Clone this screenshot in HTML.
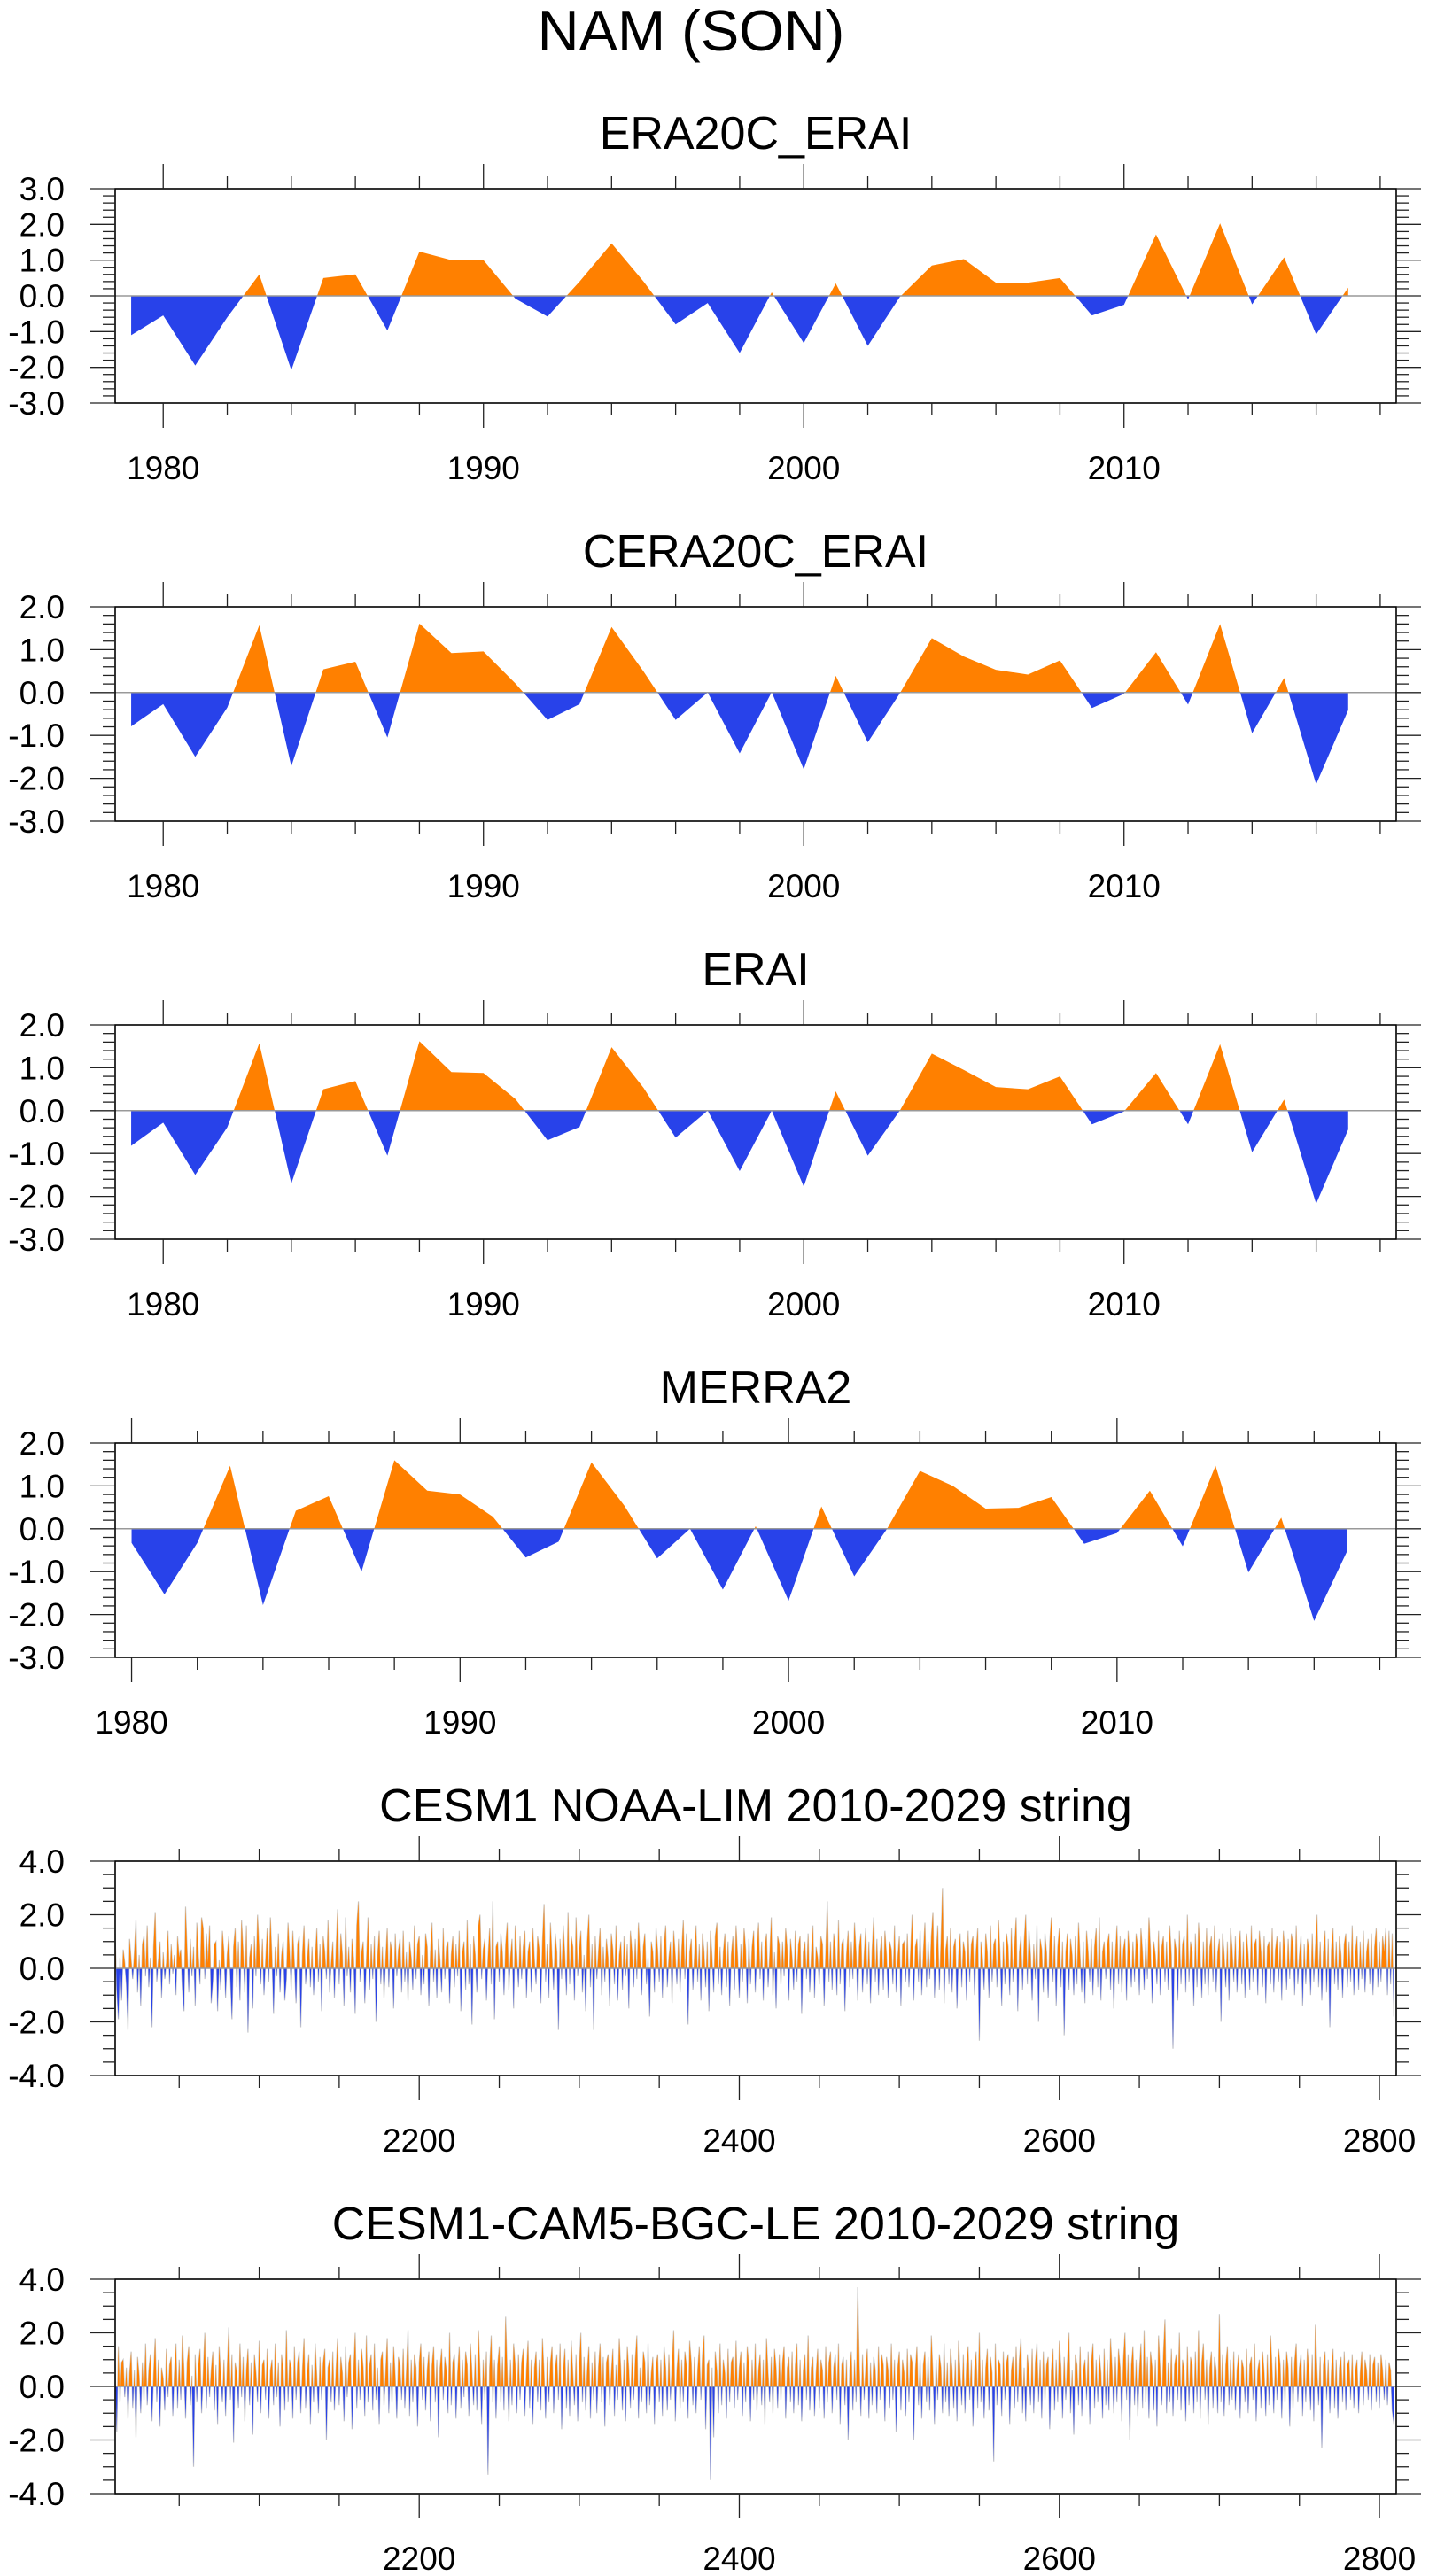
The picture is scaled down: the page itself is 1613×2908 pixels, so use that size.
<!DOCTYPE html>
<html><head><meta charset="utf-8">
<style>
html,body{margin:0;padding:0;background:#fff;}
svg{display:block;}
text{font-family:"Liberation Sans",Arial,sans-serif;fill:#000;}
</style></head>
<body>
<svg id="chart" width="1613" height="2908" viewBox="0 0 1613 2908" xmlns="http://www.w3.org/2000/svg">
<text x="780" y="57" font-size="65" text-anchor="middle">NAM (SON)</text>
</svg>
<script>
// ---- data ----
const yearsA = [1979,1980,1981,1982,1983,1984,1985,1986,1987,1988,1989,1990,1991,1992,1993,1994,1995,1996,1997,1998,1999,2000,2001,2002,2003,2004,2005,2006,2007,2008,2009,2010,2011,2012,2013,2014,2015,2016,2017];
const era20cErai = [-1.1,-0.55,-1.95,-0.6,0.6,-2.08,0.5,0.6,-0.97,1.24,1.0,1.0,-0.08,-0.58,0.4,1.47,0.4,-0.8,-0.2,-1.6,0.1,-1.32,0.35,-1.4,-0.03,0.85,1.03,0.37,0.37,0.5,-0.55,-0.25,1.72,-0.1,2.03,-0.24,1.08,-1.08,0.23];
const cera20cErai = [-0.79,-0.27,-1.5,-0.35,1.57,-1.72,0.54,0.72,-1.05,1.61,0.92,0.96,0.21,-0.64,-0.27,1.53,0.49,-0.64,0.0,-1.42,0.01,-1.79,0.39,-1.16,-0.02,1.27,0.84,0.53,0.42,0.75,-0.36,-0.03,0.94,-0.28,1.6,-0.95,0.34,-2.14,-0.41];
const erai = [-0.82,-0.28,-1.5,-0.39,1.57,-1.7,0.5,0.69,-1.05,1.62,0.9,0.88,0.27,-0.69,-0.38,1.48,0.53,-0.63,0.0,-1.41,0.0,-1.77,0.45,-1.05,0.0,1.33,0.95,0.55,0.5,0.8,-0.32,-0.02,0.88,-0.32,1.55,-0.97,0.26,-2.17,-0.44];
const yearsM = [1980,1981,1982,1983,1984,1985,1986,1987,1988,1989,1990,1991,1992,1993,1994,1995,1996,1997,1998,1999,2000,2001,2002,2003,2004,2005,2006,2007,2008,2009,2010,2011,2012,2013,2014,2015,2016,2017];
const merra2 = [-0.33,-1.53,-0.33,1.47,-1.78,0.42,0.76,-1.0,1.6,0.89,0.8,0.28,-0.67,-0.3,1.55,0.54,-0.69,0.0,-1.42,0.06,-1.68,0.52,-1.11,0.0,1.35,1.0,0.47,0.49,0.74,-0.35,-0.1,0.89,-0.41,1.47,-1.02,0.26,-2.15,-0.53];
const cesmLim = [
1.3,-0.8,-1.9,0.4,-1.2,0.7,0.2,-0.6,-2.3,1.1,0.3,-0.4,0.6,1.8,-0.9,0.5,-1.4,0.9,1.2,-0.3,
1.6,-0.7,0.4,-2.2,0.8,2.1,-0.5,0.3,1.0,-1.1,0.6,-0.4,0.2,1.4,-0.6,0.9,-0.2,0.5,-1.0,1.2,
0.4,0.7,-0.8,-1.6,2.3,0.6,-0.9,1.1,-0.3,0.8,-1.4,1.7,0.5,-0.6,1.9,1.5,-0.4,1.3,0.2,1.6,
-1.3,-0.5,0.9,1.0,-1.6,0.3,-0.8,1.4,0.6,-1.1,0.5,1.2,-0.4,-1.9,0.8,1.5,-0.7,1.0,-1.2,1.8,
0.6,-0.9,1.6,-2.4,0.4,0.9,-1.5,1.2,-0.3,2.0,0.7,-0.6,1.1,-1.0,0.3,1.5,-0.5,1.9,0.4,-1.7,
0.8,-0.3,1.3,-0.9,0.5,1.0,-1.2,-0.4,1.7,0.6,-0.8,1.4,0.2,-1.3,0.9,1.2,-2.2,0.5,1.6,-0.6,
0.3,1.1,-0.7,0.8,-1.0,0.4,1.5,-0.5,0.9,-1.6,1.2,0.6,-0.4,1.8,-0.9,0.2,1.0,-1.1,0.7,2.2,
-0.6,1.3,0.5,-1.4,1.9,-0.3,0.8,-0.9,1.1,0.4,-1.7,1.6,2.5,-0.5,0.6,1.0,-1.3,0.3,1.9,-0.8,
0.9,-0.4,1.2,-2.0,0.5,1.4,-0.6,0.8,-1.1,0.3,1.5,-0.7,1.0,0.6,-1.5,1.3,-0.3,0.7,1.1,-0.9,
1.4,-0.5,0.6,-1.2,1.0,0.4,-0.8,1.6,-0.4,0.9,1.2,-1.0,0.5,-0.6,1.3,0.8,-1.4,0.6,1.7,-0.5,
0.7,-1.1,1.1,0.3,-0.9,1.5,-0.4,0.8,1.0,-1.3,0.5,1.2,-0.7,0.9,-0.3,1.4,-1.6,0.6,1.0,-0.8,
1.8,-0.6,0.9,-2.1,1.2,0.5,-0.9,1.6,2.0,-0.4,0.7,1.1,-1.2,0.4,1.5,-0.6,2.5,-1.9,0.8,1.0,
-0.5,1.3,0.6,-1.0,0.9,1.7,-0.8,0.4,1.1,-1.5,1.6,0.5,-0.7,1.2,-0.4,0.8,1.4,-1.1,0.6,1.0,
-0.9,1.5,0.3,-0.6,1.2,0.7,-1.3,1.0,2.4,-0.5,0.9,-1.1,1.7,0.4,-0.8,1.3,0.6,-2.3,1.1,-0.4,
1.6,0.5,-1.0,2.1,-0.6,1.2,0.8,-1.2,1.9,-0.3,0.7,1.4,-0.9,0.5,-1.6,1.0,2.0,-0.7,0.9,-2.3,
1.2,-0.4,0.6,1.5,-1.0,0.8,-0.5,1.1,0.4,-1.4,1.3,0.7,-0.6,1.6,-1.2,0.5,1.0,-0.8,1.2,-0.3,
0.9,-1.5,1.4,0.6,-0.7,1.1,-0.4,1.7,0.5,-1.0,0.8,1.3,-0.6,0.4,-1.8,1.0,0.6,-0.9,1.5,0.7,
-0.5,1.2,-1.1,0.9,1.6,-0.7,0.4,1.0,-1.3,1.4,0.5,-0.6,1.1,-0.9,0.7,1.8,-0.4,1.3,-2.1,0.6,
1.1,-0.8,0.5,1.6,-0.5,0.9,-1.2,1.3,0.6,-0.7,1.0,-1.6,1.4,0.4,-0.9,1.2,1.7,-0.6,0.8,-1.0,
0.6,1.3,-0.7,1.0,-1.4,0.5,1.2,-0.8,1.6,0.4,-1.1,0.9,-0.5,1.5,0.7,-1.3,1.1,-0.6,0.8,1.4,
-0.9,0.6,1.7,-0.4,1.0,-1.2,0.8,1.3,-0.7,0.5,1.9,-1.0,0.6,-1.5,1.2,0.9,-0.6,1.0,-0.3,1.5,
0.7,-1.2,1.1,0.4,-0.8,1.4,-0.5,0.9,1.2,-1.7,0.6,1.0,-0.4,1.3,-0.9,0.5,1.6,-1.1,0.8,0.4,
-0.6,1.2,0.9,-1.4,0.6,2.5,-0.5,1.0,-0.8,1.3,0.7,-1.0,1.8,-0.6,0.9,1.1,-1.6,0.5,1.4,-0.7,
1.0,-0.4,1.7,0.6,-1.2,0.8,1.3,-0.9,0.5,1.5,-0.6,1.0,-1.3,0.7,1.9,-0.5,1.1,-1.0,0.6,1.2,
-0.8,1.4,0.5,-1.1,1.0,0.7,-0.6,1.6,-0.9,0.4,1.2,-1.4,0.9,1.0,-0.5,1.3,-0.7,0.6,2.0,-1.2,
0.8,1.1,-0.5,1.4,-1.0,0.6,1.7,-0.7,1.0,-0.4,1.2,2.1,-1.1,0.5,1.6,-0.8,1.0,3.0,-1.3,0.7,
1.2,-0.6,1.5,-0.9,0.8,1.1,-1.5,0.5,1.3,-0.7,1.0,0.6,-1.2,1.4,-0.5,0.9,1.2,-1.0,0.7,1.5,
-2.7,1.0,0.4,-0.8,1.3,0.6,-1.1,1.6,-0.5,0.9,1.1,-0.7,1.8,0.5,-1.4,1.0,-0.6,1.3,0.8,-1.0,
1.5,-0.5,0.9,1.9,-1.6,0.6,1.2,-0.8,1.0,2.0,-0.6,1.4,0.5,-1.2,0.9,-0.4,1.6,-2.0,1.1,0.7,
-0.9,1.3,0.6,-1.1,1.0,1.9,-0.5,1.2,-1.4,0.8,1.5,-0.7,1.0,-2.5,0.6,1.3,-0.8,1.1,0.5,-1.0,
1.2,-0.6,1.7,0.4,-0.9,1.0,-1.3,1.4,0.6,-0.5,1.1,-1.0,0.8,1.5,-0.7,1.9,-1.2,0.6,1.0,-0.4,
0.9,1.3,-0.8,1.0,-1.5,0.5,1.6,-0.6,1.2,-0.9,0.7,1.1,-1.2,1.4,0.5,-0.7,1.0,-0.5,1.3,0.8,
-1.0,1.5,0.6,-0.8,1.1,-0.4,1.9,0.7,-1.3,1.0,0.5,-0.6,1.4,-1.0,0.8,1.2,-0.5,1.0,-0.8,1.6,
0.5,-3.0,1.1,0.7,-1.2,1.4,-0.6,0.9,1.2,-0.9,2.0,-0.5,1.0,0.6,-1.4,1.3,-0.7,1.7,0.5,-1.1,
1.0,-0.6,1.5,-1.0,0.8,1.2,-0.5,1.6,-0.9,0.6,1.1,-2.0,1.3,0.5,-0.7,1.0,-1.2,1.5,0.7,-0.5,
1.2,-0.9,0.6,1.4,-0.6,1.0,-1.1,1.3,0.5,-0.8,1.6,-0.5,0.9,1.1,-1.0,1.4,0.6,-0.7,1.2,-1.3,
0.8,1.0,-0.6,1.5,-0.9,0.7,1.2,-0.5,1.0,-1.2,1.4,0.6,-0.8,1.1,-0.4,1.3,0.9,-1.0,1.6,-0.6,
0.5,1.2,-1.4,0.9,-0.6,1.1,0.7,-1.0,1.3,-0.5,0.8,2.0,-0.7,1.0,-1.2,0.6,1.4,-0.9,1.1,-2.2,
0.7,1.5,-0.6,1.0,-0.8,1.2,0.5,-1.1,0.9,1.3,-0.7,1.0,-0.5,1.6,-1.0,0.6,1.2,-0.8,1.0,-0.4,
1.4,-0.9,0.6,1.1,-0.6,1.3,-1.0,0.8,1.5,-0.7,1.0,-0.5,1.2,0.6,1.5,-1.0,1.4,-0.6,1.3,-1.8];
const cesmBgc = [
0.8,-1.7,1.5,-0.6,0.9,1.0,-0.4,0.7,-1.2,0.5,1.3,-0.8,0.6,-1.9,1.1,0.4,-1.0,0.9,-0.5,1.6,
-0.7,0.6,1.2,-1.3,0.4,1.8,-0.6,1.0,-1.5,0.7,0.3,-0.9,1.4,-0.4,0.8,1.1,-1.1,0.5,1.6,-0.8,
1.0,-0.5,1.9,0.6,-1.2,0.9,1.5,-0.7,0.4,-3.0,1.2,-0.6,0.8,1.4,-1.0,0.5,2.0,-0.8,1.1,-0.4,
0.6,1.3,-0.9,0.8,-1.4,1.5,0.4,-0.6,1.0,-1.1,0.7,2.2,-0.5,1.2,-2.1,0.9,0.5,-0.8,1.6,-0.4,
1.1,-1.3,0.6,1.4,-0.7,0.9,-1.8,1.2,0.5,-0.6,1.7,-1.0,0.8,1.0,-0.5,1.4,-1.2,0.6,1.0,-0.7,
1.6,-0.4,0.9,-1.5,1.2,0.6,-0.9,2.1,-0.6,1.0,0.7,-1.2,1.5,-0.5,0.9,1.3,-1.0,0.6,1.8,-0.8,
0.5,1.2,-1.4,0.8,-0.6,1.6,0.4,-1.0,1.1,-0.5,0.9,1.4,-2.0,0.7,1.0,-0.6,1.3,-0.9,0.6,1.8,
-0.7,1.1,0.5,-1.3,1.5,-0.4,0.9,1.2,-1.6,0.6,2.0,-0.8,1.0,-0.5,1.4,0.7,-1.1,1.9,-0.6,0.8,
1.2,-0.9,1.6,-0.5,0.7,-1.4,1.0,1.3,-0.7,0.5,1.8,-1.0,0.9,-0.6,1.5,0.4,-1.2,1.1,0.8,-0.5,
1.4,-0.8,0.6,2.1,-1.1,1.0,-0.6,1.2,0.7,-1.5,0.9,1.6,-0.5,1.1,-0.9,0.6,1.3,-1.3,0.8,1.5,
-0.6,1.0,-1.9,0.7,1.4,-0.5,1.1,0.6,-1.0,2.0,-0.7,0.9,1.2,-1.2,0.5,1.5,-0.8,1.0,-0.4,1.3,
0.8,-1.1,1.6,0.5,-0.7,1.2,-0.9,2.1,0.6,-1.4,1.0,-0.5,1.3,-3.3,0.7,1.9,-0.6,1.0,-1.2,0.8,
1.5,-0.6,1.1,-0.9,2.6,0.5,-1.3,1.0,-0.7,1.6,0.8,-1.0,1.2,-0.5,0.9,1.4,-1.1,0.6,1.7,-0.8,
1.0,-1.4,0.7,1.3,-0.6,1.0,-0.9,1.8,0.5,-1.2,1.1,-0.6,0.9,1.5,-1.0,0.7,1.2,-0.5,1.6,-1.6,
0.6,1.4,-0.8,1.0,-1.1,1.7,0.5,-0.7,1.2,-1.3,0.8,2.0,-0.6,1.1,-0.9,0.6,1.5,-1.2,0.9,-0.5,
1.3,-1.0,0.7,1.6,-0.6,1.1,-1.5,0.9,1.2,-0.7,0.5,1.4,-1.1,0.8,-0.5,1.8,0.6,-0.9,1.0,-1.3,
1.5,0.6,-0.8,1.2,-0.5,1.0,1.9,-1.2,0.7,-0.6,1.3,0.9,-1.0,1.6,-0.7,0.5,1.1,-1.4,0.8,1.2,
-0.6,1.0,-1.1,1.5,0.7,-0.9,1.2,-0.5,0.9,2.1,-1.3,0.6,1.4,-0.8,1.0,-0.6,1.3,0.8,-1.2,1.7,
0.9,-0.7,1.1,-1.0,0.6,1.5,-0.5,1.2,1.9,-1.6,0.8,1.0,-3.5,0.7,-1.9,1.3,0.6,-1.0,1.6,-0.7,
1.0,0.5,-1.2,1.4,-0.6,0.9,1.1,-0.8,1.7,-0.5,0.7,1.3,-1.1,0.9,-0.6,1.5,0.8,-1.3,1.0,-0.5,
1.6,-0.9,0.6,1.2,-0.7,1.0,-1.4,1.8,0.5,-0.6,1.1,-1.0,1.4,0.7,-0.8,1.2,-0.5,0.9,1.5,-1.2,
0.7,1.1,-0.6,1.3,-1.0,0.8,1.6,-0.7,1.0,-1.3,0.6,1.2,-0.5,1.9,-0.9,0.7,1.1,-1.1,0.5,1.4,
-0.8,1.0,0.6,-1.2,1.5,-0.6,0.9,1.3,-1.0,0.7,1.2,-0.5,1.6,-1.4,0.8,1.1,-0.7,1.0,-2.0,0.6,
1.3,-0.9,1.0,-0.6,3.7,0.8,-1.1,1.2,-0.5,0.7,1.4,-1.2,0.9,-0.7,1.1,0.6,-1.0,1.5,-0.5,1.2,
0.8,-1.3,1.1,0.6,-0.8,1.6,-0.5,1.0,-1.7,0.7,1.3,-0.9,1.0,0.5,-1.1,1.4,-0.6,1.2,0.9,-2.0,
0.6,1.5,-0.7,1.0,-1.2,0.8,1.3,-0.6,1.1,-0.9,1.9,0.5,-1.4,1.0,-0.5,1.2,0.7,-1.0,1.6,-0.6,
0.9,-1.1,1.4,0.6,-0.8,1.0,-1.3,1.7,0.5,-0.7,1.2,-1.0,0.8,1.5,-0.5,1.0,-1.5,0.6,1.3,-0.8,
2.0,-0.6,1.0,-1.2,0.7,1.4,-0.9,1.1,0.5,-2.8,1.6,-0.7,1.0,0.8,-1.1,1.3,-0.5,0.9,1.2,-1.4,
0.6,1.1,-0.8,1.5,-0.6,1.0,1.8,-1.0,0.7,-1.3,1.2,0.5,-0.7,1.4,-1.0,0.9,1.6,-0.6,1.0,-1.2,
1.3,-0.5,0.8,1.1,-1.6,0.6,1.4,-0.9,1.0,-0.6,1.7,0.7,-1.2,1.1,-0.5,0.9,2.0,-1.0,0.6,-1.8,
1.2,0.8,-0.7,1.5,-1.1,0.6,1.0,-0.5,1.3,-1.4,0.9,1.6,-0.8,1.0,-0.6,1.2,0.5,-1.2,1.4,-0.7,
1.0,-0.9,1.8,0.6,-1.0,1.1,-0.6,1.4,0.7,-1.3,1.0,2.0,-0.5,1.2,-2.0,0.8,1.5,-0.7,1.0,-1.1,
0.6,1.6,-0.8,2.1,-0.6,1.1,-1.2,1.3,0.7,-0.9,1.0,-1.5,1.9,0.6,-0.7,1.2,2.5,-1.0,0.9,-0.6,
1.4,-1.1,0.8,1.2,-0.5,2.0,-0.9,1.0,0.6,-1.3,1.5,-0.7,1.1,0.8,-1.0,1.3,-0.6,2.1,-1.2,0.9,
1.6,-0.5,1.0,-1.4,0.7,1.3,-0.8,1.1,0.6,-1.0,2.7,-0.6,1.2,-1.1,0.8,1.5,-0.7,1.0,-0.5,1.3,
-0.9,0.6,1.2,-1.2,1.0,0.7,-0.6,1.4,-1.0,0.8,1.1,-0.5,1.6,-1.3,0.6,1.0,-0.8,1.3,0.5,-1.1,
1.2,-0.7,1.9,0.6,-1.0,1.1,-0.5,1.4,0.8,-1.2,1.0,-0.6,1.3,0.7,-1.5,1.1,-0.8,0.9,1.6,-0.6,
0.7,1.2,-1.1,1.0,-0.6,1.4,0.5,-0.9,1.2,-1.3,2.3,0.6,-0.7,1.1,-2.3,0.8,1.3,-0.5,1.0,-1.0,
0.6,1.4,-0.8,1.0,-1.2,0.7,1.1,-0.6,1.3,-0.9,0.8,1.0,-0.5,1.2,-0.8,0.6,1.0,-1.0,0.5,1.3,
-0.7,1.0,0.6,-0.5,1.2,-0.9,0.8,1.1,-0.6,0.9,-0.8,1.2,0.6,-0.5,1.0,-0.7,0.9,0.6,-0.9,-1.4];
const yTicksA = [-3,-2,-1,0,1,2,3];
const yTicksB = [-3,-2,-1,0,1,2];
const yTicksC = [-4,-2,0,2,4];
const xLabelsYears = [1980,1990,2000,2010];
const xLabelsMembers = [2200,2400,2600,2800];

// ---- layout ----
const NS = 'http://www.w3.org/2000/svg';
const svg = document.getElementById('chart');
const L = 130, R = 1576, H = 242;
const ORANGE = '#ff8000', BLUE = '#2842ea';
function mk(tag, attrs, parent){
  const e = document.createElementNS(NS, tag);
  for (const k in attrs) e.setAttribute(k, attrs[k]);
  (parent || svg).appendChild(e);
  return e;
}
const panels = [
  {name:'era20c-erai', title:'ERA20C_ERAI', top:213, x:yearsA, y:era20cErai, xr:[1978.5,2018.5], yr:[-3,3], yt:yTicksA, ym:0.2, xl:xLabelsYears, xmin:2, xminStart:1980, bars:false},
  {name:'cera20c-erai', title:'CERA20C_ERAI', top:685, x:yearsA, y:cera20cErai, xr:[1978.5,2018.5], yr:[-3,2], yt:yTicksB, ym:0.2, xl:xLabelsYears, xmin:2, xminStart:1980, bars:false},
  {name:'erai', title:'ERAI', top:1157, x:yearsA, y:erai, xr:[1978.5,2018.5], yr:[-3,2], yt:yTicksB, ym:0.2, xl:xLabelsYears, xmin:2, xminStart:1980, bars:false},
  {name:'merra2', title:'MERRA2', top:1629, x:yearsM, y:merra2, xr:[1979.5,2018.5], yr:[-3,2], yt:yTicksB, ym:0.2, xl:xLabelsYears, xmin:2, xminStart:1980, bars:false},
  {name:'cesm1-noaa-lim', title:'CESM1 NOAA-LIM 2010-2029 string', top:2101, x:null, y:cesmLim, xr:[2010,2810.5], yr:[-4,4], yt:yTicksC, ym:0.5, xl:xLabelsMembers, xmin:50, xminStart:2050, bars:true},
  {name:'cesm1-cam5-bgc-le', title:'CESM1-CAM5-BGC-LE 2010-2029 string', top:2573, x:null, y:cesmBgc, xr:[2010,2810.5], yr:[-4,4], yt:yTicksC, ym:0.5, xl:xLabelsMembers, xmin:50, xminStart:2050, bars:true}
];

panels.forEach((p, pi) => {
  const T = p.top, B = T + H;
  const xs = v => L + (v - p.xr[0]) / (p.xr[1] - p.xr[0]) * (R - L);
  const ys = v => B - (v - p.yr[0]) / (p.yr[1] - p.yr[0]) * H;
  const g = mk('g', {});
  
  

  const t = mk('text', {x:(L+R)/2, y:T-45, 'font-size':52, 'text-anchor':'middle'}, g);
  
  
  t.textContent = p.title;

  const xv = p.x ? p.x : p.y.map((_, i) => 2010 + i);
  const cid = 'clip' + pi;
  const defs = mk('defs', {}, g);
  const cpA = mk('clipPath', {id:cid+'a'}, defs);
  mk('rect', {x:L, y:T, width:R-L, height:ys(0)-T}, cpA);
  const cpB = mk('clipPath', {id:cid+'b'}, defs);
  mk('rect', {x:L, y:ys(0), width:R-L, height:B-ys(0)}, cpB);

  let pts = xv.map((x, i) => xs(x).toFixed(2) + ',' + ys(p.y[i]).toFixed(2));
  const poly = xs(xv[0]).toFixed(2) + ',' + ys(0) + ' ' + pts.join(' ') + ' ' + xs(xv[xv.length-1]).toFixed(2) + ',' + ys(0);
  if (p.bars) {
    const ln = mk('polyline', {points:pts.join(' '), fill:'none', stroke:'#c8c8c8', 'stroke-width':1.2}, g);
    
    
  }
  const pa = mk('polygon', {points:poly, fill:ORANGE, 'clip-path':'url(#'+cid+'a)'}, g);
  
  
  const pb = mk('polygon', {points:poly, fill:BLUE, 'clip-path':'url(#'+cid+'b)'}, g);
  
  

  const zl = mk('line', {x1:L, x2:R, y1:ys(0), y2:ys(0), stroke:'#999', 'stroke-width':1.5}, g);
  
  

  const fr = mk('rect', {x:L, y:T, width:R-L, height:H, fill:'none', stroke:'#000', 'stroke-width':1.6}, g);
  
  

  // y ticks
  const ya = mk('g', {stroke:'#222', 'stroke-width':1.3}, g);
  
  
  const nMin = Math.round((p.yr[1]-p.yr[0])/p.ym);
  for (let k = 0; k <= nMin; k++) {
    const v = p.yr[0] + k*p.ym;
    const yy = ys(v);
    const major = p.yt.some(t => Math.abs(t - v) < 1e-6);
    const len = major ? 28 : 14;
    mk('line', {x1:L-len, x2:L, y1:yy, y2:yy}, ya);
    mk('line', {x1:R, x2:R+len, y1:yy, y2:yy}, ya);
  }
  p.yt.forEach(v => {
    const lb = mk('text', {x:73, y:ys(v)+13, 'font-size':37, 'text-anchor':'end', stroke:'none'}, g);
    
    
    lb.textContent = v.toFixed(1);
  });

  // x ticks
  const xa = mk('g', {stroke:'#222', 'stroke-width':1.3}, g);
  
  
  for (let v = p.xminStart; v <= p.xr[1]; v += p.xmin) {
    const xx = xs(v);
    const major = p.xl.indexOf(v) >= 0;
    const len = major ? 28 : 14;
    mk('line', {x1:xx, x2:xx, y1:T-len, y2:T}, xa);
    mk('line', {x1:xx, x2:xx, y1:B, y2:B+len}, xa);
  }
  p.xl.forEach(v => {
    const lb = mk('text', {x:xs(v), y:B+86, 'font-size':37, 'text-anchor':'middle'}, g);
    
    
    lb.textContent = String(v);
  });
});
</script>
</body></html>
